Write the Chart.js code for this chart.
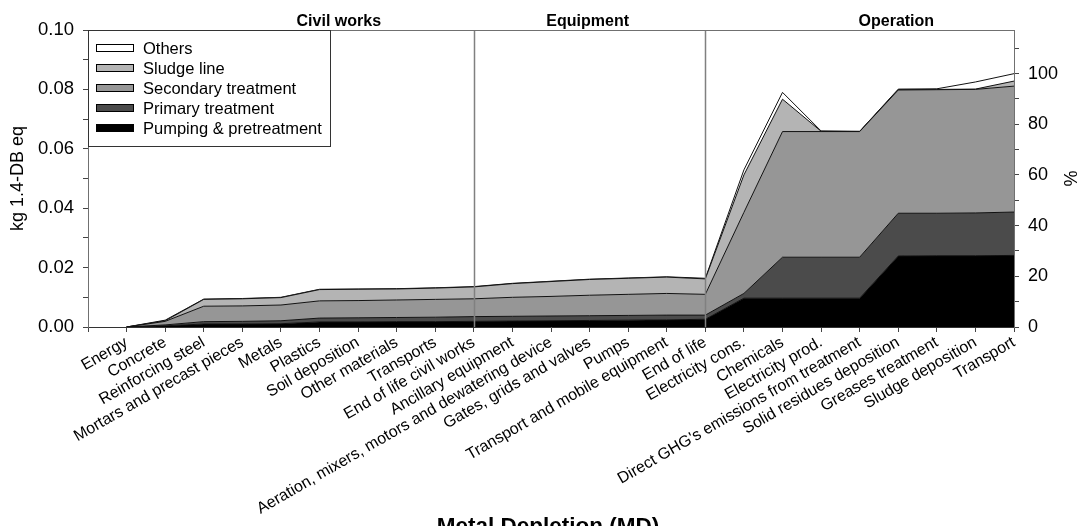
<!DOCTYPE html>
<html>
<head>
<meta charset="utf-8">
<script src="https://cdn.jsdelivr.net/npm/chart.js@4.4.0/dist/chart.umd.min.js"></script>
<style>
  html, body { margin: 0; padding: 0; background: #ffffff; }
  #wrap { width: 1089px; height: 526px; }
</style>
</head>
<body>
<div id="wrap"><canvas id="c" width="1089" height="526"></canvas></div>
<script>
// Life-cycle stages, in the order they accumulate
const categories = [
  'Energy', 'Concrete', 'Reinforcing steel', 'Mortars and precast pieces', 'Metals',
  'Plastics', 'Soil deposition', 'Other materials', 'Transports', 'End of life civil works',
  'Ancillary equipment', 'Aeration, mixers, motors and dewatering device', 'Gates, grids and valves',
  'Pumps', 'Transport and mobile equipment', 'End of life', 'Electricity cons.', 'Chemicals',
  'Electricity prod.', "Direct GHG's emissions from treatment", 'Solid residues deposition',
  'Greases treatment', 'Sludge deposition', 'Transport'
];

// Cumulative contribution of each plant unit (kg 1.4-DB eq)
const pumping = [0, 0.0004, 0.0010, 0.0010, 0.0011, 0.0017, 0.0017, 0.0018, 0.0018, 0.0019, 0.0020, 0.0021,
  0.0022, 0.0023, 0.0024, 0.0026, 0.0097, 0.0097, 0.0097, 0.0097, 0.0239, 0.0240, 0.0240, 0.0241];
const primary = [0, 0.0003, 0.0008, 0.0009, 0.0010, 0.0013, 0.0014, 0.0014, 0.0015, 0.0016, 0.0016, 0.0016,
  0.0016, 0.0016, 0.0016, 0.0014, 0.0016, 0.0138, 0.0138, 0.0138, 0.0144, 0.0143, 0.0144, 0.0146];
const secondary = [0, 0.0012, 0.0052, 0.0052, 0.0053, 0.0058, 0.0058, 0.0059, 0.0060, 0.0060, 0.0064, 0.0066,
  0.0069, 0.0071, 0.0073, 0.0070, 0.0273, 0.0423, 0.0423, 0.0423, 0.0415, 0.0416, 0.0416, 0.0424];
const sludge = [0, 0.0002, 0.0023, 0.0024, 0.0025, 0.0038, 0.0038, 0.0037, 0.0038, 0.0040, 0.0046, 0.0050,
  0.0053, 0.0054, 0.0055, 0.0052, 0.0126, 0.0109, 0.0001, 0, 0.0001, 0.0001, 0.0001, 0.0017];
const others = [0, 0.0002, 0.0001, 0.0001, 0.0001, 0.0001, 0.0001, 0.0001, 0.0001, 0.0001, 0.0001, 0.0001,
  0.0001, 0.0001, 0.0001, 0.0002, 0.0017, 0.0023, 0.0001, 0.0001, 0.0002, 0.0002, 0.0024, 0.0025];

const seriesNames = ['Pumping & pretreatment', 'Primary treatment', 'Secondary treatment', 'Sludge line', 'Others'];
const seriesColors = ['#000000', '#4b4b4b', '#969696', '#b4b4b4', '#ffffff'];

// Life-cycle phases and the stage positions that separate them
const phaseNames = ['Civil works', 'Equipment', 'Operation'];
const phaseLabelPos = [6.5, 12.95, 20.95];
const phaseDividers = [10, 16];

const leftMax = 0.10;
const grandTotal = [pumping, primary, secondary, sludge, others]
  .reduce((s, arr) => s + arr[arr.length - 1], 0);
const rightMax = leftMax / grandTotal * 100;

const FONT = "'Liberation Sans', Arial, sans-serif";

const toPoints = arr => arr.map((v, i) => ({ x: i + 1, y: v }));

const datasets = [pumping, primary, secondary, sludge, others].map((arr, k) => ({
  label: seriesNames[k],
  data: toPoints(arr),
  backgroundColor: seriesColors[k],
  borderColor: '#111111',
  borderWidth: 1,
  pointRadius: 0,
  tension: 0,
  fill: k === 0 ? 'origin' : '-1',
  yAxisID: 'y'
}));

const decorations = {
  id: 'decorations',
  afterDatasetsDraw(chart) {
    const { ctx, chartArea: a, scales } = chart;
    ctx.save();
    // phase dividers
    ctx.strokeStyle = '#808080';
    ctx.lineWidth = 1.5;
    phaseDividers.forEach(v => {
      const x = Math.round(scales.x.getPixelForValue(v)) + 0.5;
      ctx.beginPath();
      ctx.moveTo(x, a.top);
      ctx.lineTo(x, a.bottom);
      ctx.stroke();
    });
    // frame top edge
    ctx.strokeStyle = '#707070';
    ctx.lineWidth = 1.2;
    ctx.beginPath();
    ctx.moveTo(a.left, a.top + 0.5);
    ctx.lineTo(a.right, a.top + 0.5);
    ctx.stroke();

    // legend box
    const lx = a.left, ly = a.top, lw = 242, lh = 116;
    ctx.fillStyle = '#ffffff';
    ctx.fillRect(lx, ly, lw, lh);
    ctx.strokeStyle = '#333333';
    ctx.lineWidth = 1;
    ctx.strokeRect(lx + 0.5, ly + 0.5, lw, lh);
    ctx.font = '16.5px ' + FONT;
    ctx.textBaseline = 'middle';
    ctx.textAlign = 'left';
    for (let r = 0; r < seriesNames.length; r++) {
      const k = seriesNames.length - 1 - r;
      const cy = ly + 18 + r * 20;
      ctx.fillStyle = seriesColors[k];
      ctx.fillRect(lx + 8, cy - 3.5, 37, 7);
      ctx.strokeStyle = '#000000';
      ctx.strokeRect(lx + 8.5, cy - 3.5, 37, 7);
      ctx.fillStyle = '#000000';
      ctx.fillText(seriesNames[k], lx + 55, cy + 1);
    }

    // phase headings
    ctx.font = 'bold 16px ' + FONT;
    ctx.textAlign = 'center';
    ctx.textBaseline = 'alphabetic';
    phaseNames.forEach((t, i) => {
      ctx.fillText(t, scales.x.getPixelForValue(phaseLabelPos[i]), a.top - 4);
    });

    // category axis heading
    ctx.font = 'bold 22.5px ' + FONT;
    ctx.fillText('Metal Depletion (MD)', 548, 533);
    ctx.restore();
  }
};

new Chart(document.getElementById('c'), {
  type: 'line',
  data: { datasets },
  plugins: [decorations],
  options: {
    responsive: false,
    animation: false,
    devicePixelRatio: 1,
    layout: { padding: { top: 30, left: 0, right: 0, bottom: 0 } },
    plugins: { legend: { display: false }, tooltip: { enabled: false } },
    elements: { line: { borderJoinStyle: 'miter' } },
    scales: {
      x: {
        type: 'linear',
        min: 0,
        max: categories.length,
        afterFit: s => { s.height = 199; },
        border: { display: true, color: '#333333', width: 1 },
        grid: { drawOnChartArea: false, drawTicks: true, tickLength: 5, color: '#444444' },
        ticks: {
          stepSize: 1,
          autoSkip: false,
          maxRotation: 30,
          minRotation: 30,
          padding: 1,
          color: '#000000',
          font: { family: FONT, size: 16 },
          callback: v => categories[v - 1] ?? ''
        }
      },
      y: {
        position: 'left',
        stacked: true,
        min: 0,
        max: leftMax,
        afterFit: s => { s.width = 88; },
        border: { display: true, color: '#707070', width: 1 },
        grid: { drawOnChartArea: false, drawTicks: true, tickLength: 5, color: '#444444' },
        title: { display: true, text: 'kg 1.4-DB eq', color: '#000000', font: { family: FONT, size: 18 }, padding: { top: 7, bottom: 0 } },
        ticks: {
          stepSize: 0.005,
          padding: 9,
          color: '#000000',
          font: { family: FONT, size: 18.5 },
          callback: v => (Math.round(v * 1000) % 20 === 0 ? v.toFixed(2) : '')
        }
      },
      y1: {
        position: 'right',
        min: 0,
        max: rightMax,
        afterFit: s => { s.width = 75; },
        border: { display: true, color: '#707070', width: 1 },
        grid: { drawOnChartArea: false, drawTicks: true, tickLength: 5, color: '#444444' },
        title: { display: true, text: '%', color: '#000000', font: { family: FONT, size: 18 }, padding: { top: 9, bottom: 0 } },
        ticks: {
          stepSize: 5,
          includeBounds: false,
          padding: 9,
          color: '#000000',
          font: { family: FONT, size: 18 },
          callback: v => (Math.round(v) % 20 === 0 ? String(Math.round(v)) : '')
        }
      }
    }
  }
});
</script>
</body>
</html>
